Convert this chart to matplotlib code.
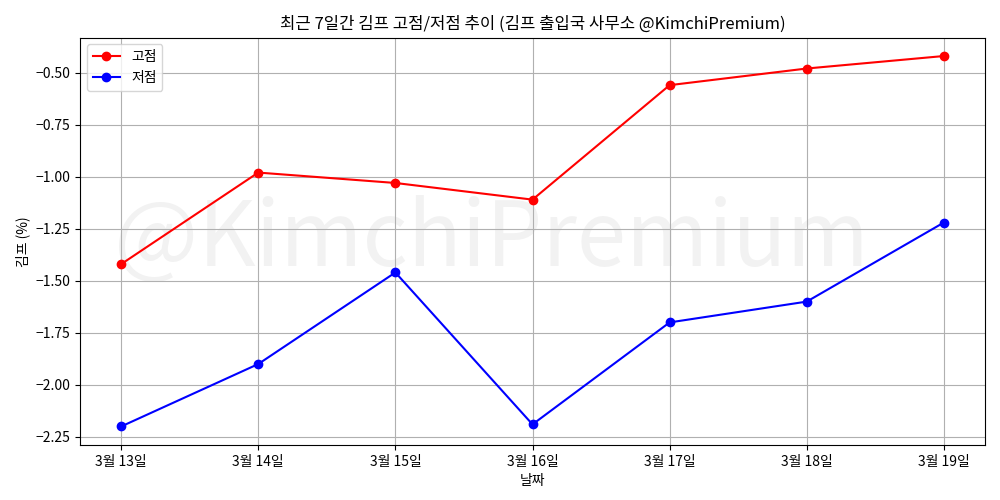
import matplotlib
matplotlib.use("Agg")
import matplotlib.pyplot as plt

plt.rcParams['font.family'] = ['Noto Sans CJK KR', 'DejaVu Sans']

dates = ["3월 13일", "3월 14일", "3월 15일", "3월 16일", "3월 17일", "3월 18일", "3월 19일"]
high = [-1.42, -0.98, -1.03, -1.11, -0.56, -0.48, -0.42]
low = [-2.20, -1.90, -1.46, -2.19, -1.70, -1.60, -1.22]

fig, ax = plt.subplots(figsize=(10, 5), dpi=100)
ax.plot(dates, high, color='red', marker='o', label='고점')
ax.plot(dates, low, color='blue', marker='o', label='저점')
ax.set_title("최근 7일간 김프 고점/저점 추이 (김프 출입국 사무소 @KimchiPremium)", fontsize=12)
ax.set_xlabel("날짜")
ax.set_ylabel("김프 (%)")
ax.grid(True)
ax.legend(loc='upper left')
ax.text(0.455, 0.5, "@KimchiPremium", transform=ax.transAxes, fontsize=64,
        fontweight='light', color='gray', alpha=0.1, ha='center', va='center', zorder=0)
fig.subplots_adjust(left=0.08, right=0.985, top=0.925, bottom=0.11)
fig.savefig("out.png")
